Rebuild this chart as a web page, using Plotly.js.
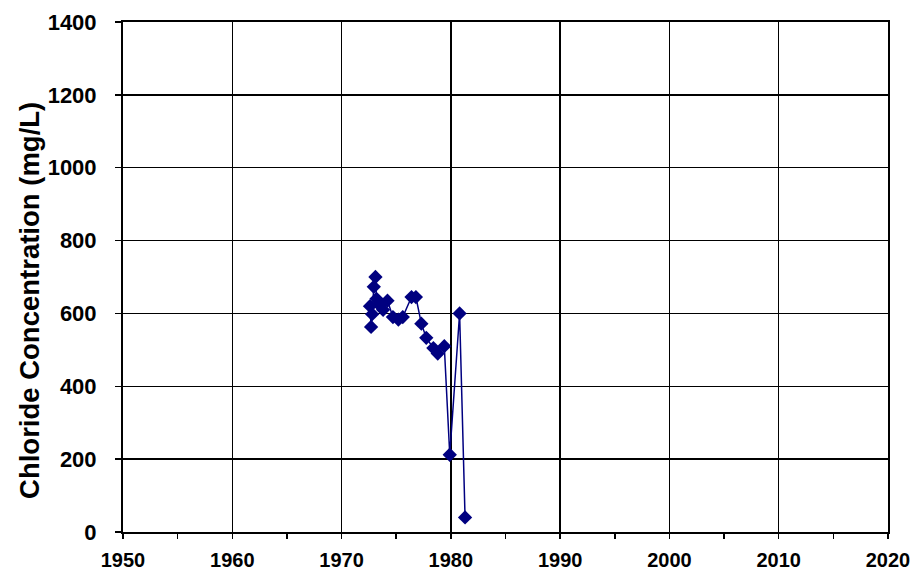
<!DOCTYPE html>
<html>
<head>
<meta charset="utf-8">
<script src="https://cdn.plot.ly/plotly-3.0.1.min.js"></script>
<style>html,body{margin:0;padding:0;background:#fff;}#chart{width:916px;height:574px;}</style>
</head>
<body>
<div id="chart"></div>
<script>
const years = [1972.6, 1972.7, 1972.8, 1972.95, 1973.1, 1973.2, 1973.4, 1973.8, 1974.2, 1974.7, 1975.2, 1975.6, 1976.4, 1976.8, 1977.3, 1977.75, 1978.4, 1978.8, 1979.4, 1979.9, 1980.8, 1981.3];
const chloride = [620, 563, 598, 673, 700, 640, 625, 610, 635, 590, 583, 590, 645, 645, 572, 533, 505, 490, 510, 212, 600, 40];
const xTickVals = [1950, 1960, 1970, 1980, 1990, 2000, 2010, 2020];
const yTickVals = [0, 200, 400, 600, 800, 1000, 1200, 1400];
const yTitle = 'Chloride Concentration (mg/L)';

const fam = 'Liberation Sans, Arial, sans-serif';
const bold = v => '<b>' + v + '</b>';

Plotly.newPlot('chart', [{
  x: years, y: chloride, type: 'scatter', mode: 'lines+markers',
  line: {color: '#000080', width: 1.5},
  marker: {symbol: 'diamond', size: 11, color: '#000080'}
}], {
  width: 916, height: 574,
  margin: {l: 123, r: 28, t: 22, b: 42},
  paper_bgcolor: '#fff', plot_bgcolor: '#fff',
  showlegend: false,
  font: {family: fam, color: '#000'},
  xaxis: {
    range: [1950, 2020], tickmode: 'array', tickvals: xTickVals, ticktext: xTickVals.map(bold),
    showgrid: true, gridcolor: '#000', gridwidth: 1.5,
    showline: true, linecolor: '#000', linewidth: 2, mirror: true,
    ticks: 'outside', ticklen: 5, tickwidth: 1.5, tickcolor: '#000',
    minor: {dtick: 5, tick0: 1950, ticks: 'outside', ticklen: 5, tickwidth: 1.5, tickcolor: '#000', showgrid: false},
    tickfont: {family: fam, size: 20, color: '#000', weight: 700}, zeroline: false, ticklabelstandoff: 4
  },
  xaxis2: {
    overlaying: 'x', matches: 'x', anchor: 'y', side: 'bottom', range: [1950, 2020],
    showgrid: false, showline: false, zeroline: false, showticklabels: false,
    tickmode: 'array', tickvals: xTickVals,
    ticks: 'inside', ticklen: 4, tickwidth: 1.5, tickcolor: '#000',
    minor: {dtick: 5, tick0: 1950, ticks: 'inside', ticklen: 4, tickwidth: 1.5, tickcolor: '#000', showgrid: false}
  },
  yaxis: {
    range: [0, 1400], tickmode: 'array', tickvals: yTickVals, ticktext: yTickVals.map(bold),
    showgrid: true, gridcolor: '#000', gridwidth: 1.5,
    showline: true, linecolor: '#000', linewidth: 2, mirror: true,
    ticks: 'outside', ticklen: 6, tickwidth: 1.5, tickcolor: '#000',
    tickfont: {family: fam, size: 22, color: '#000', weight: 700}, zeroline: false, ticklabelstandoff: 14
  },
  annotations: [{
    text: bold(yTitle), textangle: -90, showarrow: false,
    xref: 'paper', yref: 'paper', x: 0, y: 0.453, xanchor: 'center', yanchor: 'middle', xshift: -93,
    font: {family: fam, size: 27.5, color: '#000', weight: 700}
  }]
}, {displayModeBar: false, staticPlot: true});
</script>
</body>
</html>
